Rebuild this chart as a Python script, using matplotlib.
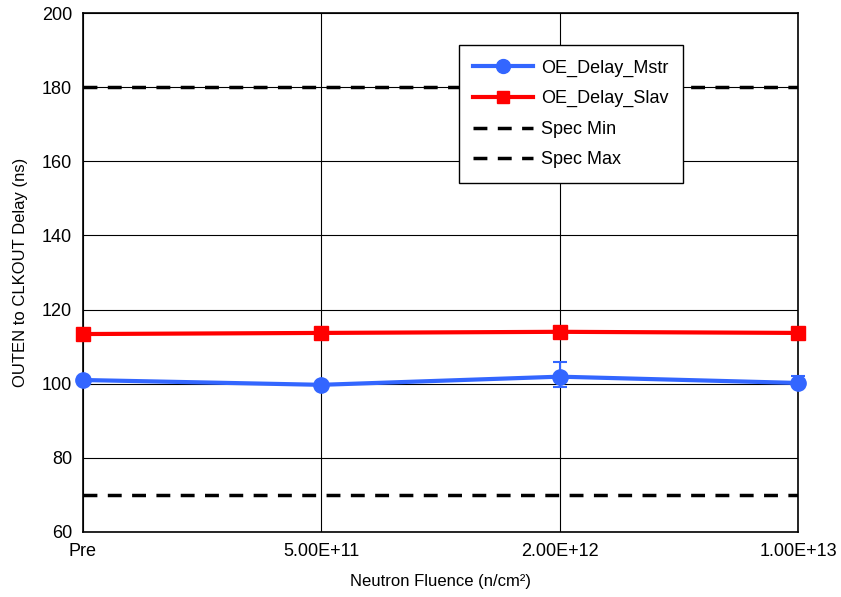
import matplotlib
matplotlib.use("Agg")
import matplotlib.pyplot as plt
from matplotlib.lines import Line2D

plt.rcParams['font.family'] = ['Liberation Sans', 'DejaVu Sans']

categories = ["Pre", "5.00E+11", "2.00E+12", "1.00E+13"]
oe_delay_mstr = [101.0, 99.7, 101.9, 100.2]
mstr_err_low = [0.3, 0.3, 2.7, 0.3]
mstr_err_high = [0.3, 0.3, 4.0, 1.9]
oe_delay_slav = [113.4, 113.7, 114.0, 113.7]
spec_min = 180
spec_max = 70

BLUE = '#3366FF'
RED = '#FF0000'

fig = plt.figure(figsize=(8.41, 5.97), dpi=100)
ax = fig.add_axes([83 / 841, 1 - 532 / 597, (798 - 83) / 841, (532 - 13) / 597])

x = list(range(len(categories)))

ax.axhline(spec_min, color='black', lw=2.5, ls=(0, (4, 3)), zorder=2)
ax.axhline(spec_max, color='black', lw=2.5, ls=(0, (4, 3)), zorder=2)

eb = ax.errorbar(x, oe_delay_mstr, yerr=[mstr_err_low, mstr_err_high], color=BLUE,
                 lw=3, marker='o', ms=11, capsize=5, elinewidth=1.5, capthick=1.5,
                 zorder=4)
for artist in [eb[0], *eb[1], *eb[2]]:
    artist.set_clip_on(False)
ax.plot(x, oe_delay_slav, color=RED, lw=3, marker='s', ms=10, zorder=4,
        clip_on=False)

ax.set_xlim(0, len(categories) - 1)
ax.set_ylim(60, 200)
ax.set_yticks(range(60, 201, 20))
ax.set_xticks(x)
ax.set_xticklabels(categories)
ax.tick_params(axis='both', length=0, labelsize=13, pad=8)
ax.grid(True, color='black', lw=0.8)
ax.set_axisbelow(True)
for s in ax.spines.values():
    s.set_color('black')
    s.set_linewidth(1.2)

ax.set_xlabel('Neutron Fluence (n/cm²)', fontsize=12, labelpad=10)
ax.set_ylabel('OUTEN to CLKOUT Delay (ns)', fontsize=12, labelpad=10)

handles = [
    Line2D([], [], color=BLUE, lw=3, marker='o', ms=10),
    Line2D([], [], color=RED, lw=3, marker='s', ms=9),
    Line2D([], [], color='black', lw=2.5, ls=(0, (4, 3))),
    Line2D([], [], color='black', lw=2.5, ls=(0, (4, 3))),
]
labels = ['OE_Delay_Mstr', 'OE_Delay_Slav', 'Spec Min', 'Spec Max']
leg = ax.legend(handles, labels, loc='upper left',
                bbox_to_anchor=((459 - 83) / 715, (532 - 45) / 519),
                borderaxespad=0, fontsize=13, frameon=True, fancybox=False,
                edgecolor='black', framealpha=1, handlelength=3.3,
                handletextpad=0.45, borderpad=0.8, labelspacing=0.75)
leg.get_frame().set_linewidth(1.0)

fig.savefig('out.png', dpi=100)
